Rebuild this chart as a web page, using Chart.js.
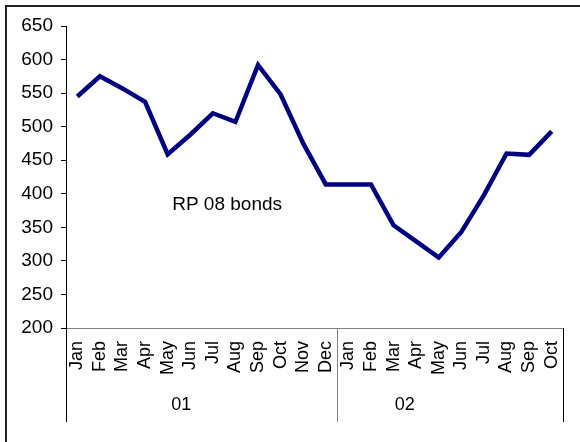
<!DOCTYPE html>
<html>
<head>
<meta charset="utf-8">
<script src="https://cdn.jsdelivr.net/npm/chart.js@4.4.1/dist/chart.umd.min.js"></script>
<style>
  html, body { margin: 0; padding: 0; background: #ffffff; }
  #wrap { width: 580px; height: 442px; position: relative; }
</style>
</head>
<body>
<div id="wrap"><canvas id="c"></canvas></div>
<script>
// Monthly categories, grouped by year
const months = ['Jan','Feb','Mar','Apr','May','Jun','Jul','Aug','Sep','Oct','Nov','Dec',
                'Jan','Feb','Mar','Apr','May','Jun','Jul','Aug','Sep','Oct'];
const years = ['01', '02'];
const monthsPerYear = [12, 10];

// RP 08 bonds series
const rp08 = [545, 575, 557, 537, 459, 488, 520, 507, 592, 548, 475, 414,
              414, 414, 353, 329, 305, 343, 398, 460, 458, 493];

// Value axis
const yMin = 200;
const yMax = 650;
const yStep = 50;

const seriesLabel = 'RP 08 bonds';
const FONT = '"Liberation Sans", Arial, Helvetica, sans-serif';

// Outer frame, year group separators/labels and the in-plot series caption
const decorations = {
  id: 'decorations',
  afterDraw(chart, args, opts) {
    const ctx = chart.ctx;
    const area = chart.chartArea;
    const x = chart.scales.x;
    const y = chart.scales.y;
    const half = (x.getPixelForValue(1) - x.getPixelForValue(0)) / 2;

    ctx.save();
    // frame
    ctx.strokeStyle = '#222';
    ctx.lineWidth = 2;
    ctx.strokeRect(6, 6, 700, 700);

    // year separators
    let start = 0;
    const bottom = area.bottom + opts.groupDepth;
    const edges = [];
    monthsPerYear.forEach(n => { edges.push(start); start += n; });
    edges.push(start);
    edges.forEach((idx, i) => {
      const px = Math.round(x.getPixelForValue(idx) - half) + 0.5;
      ctx.strokeStyle = (i === 0 || i === edges.length - 1) ? '#000' : '#808080';
      ctx.lineWidth = 1;
      ctx.beginPath();
      ctx.moveTo(px, area.bottom);
      ctx.lineTo(px, bottom);
      ctx.stroke();
    });

    // year labels
    ctx.fillStyle = '#000';
    ctx.font = '18px ' + FONT;
    ctx.textAlign = 'center';
    ctx.textBaseline = 'middle';
    years.forEach((yr, i) => {
      ctx.fillText(yr, x.getPixelForValue(opts.yearLabelAt[i]), area.bottom + opts.yearLabelOffset);
    });

    // series caption
    ctx.font = '19px ' + FONT;
    ctx.textAlign = 'left';
    ctx.fillText(seriesLabel, x.getPixelForValue(opts.captionAt[0]), y.getPixelForValue(opts.captionAt[1]));
    ctx.restore();
  }
};

new Chart(document.getElementById('c'), {
  type: 'line',
  data: {
    labels: months,
    datasets: [{
      label: seriesLabel,
      data: rp08,
      borderColor: '#000080',
      borderWidth: 4.5,
      borderJoinStyle: 'miter',
      borderCapStyle: 'butt',
      pointRadius: 0,
      pointHoverRadius: 0,
      tension: 0,
      fill: false
    }]
  },
  options: {
    responsive: true,
    maintainAspectRatio: false,
    animation: false,
    events: [],
    layout: { padding: { top: 26, right: 17, bottom: 0, left: 0 } },
    plugins: {
      legend: { display: false },
      tooltip: { enabled: false },
      title: { display: false },
      decorations: {
        groupDepth: 94,
        yearLabelAt: [4.6, 14.5],
        yearLabelOffset: 77,
        captionAt: [4.2, 384]
      }
    },
    scales: {
      x: {
        type: 'category',
        offset: true,
        grid: { display: false, drawOnChartArea: false, drawTicks: false },
        border: { display: true, color: '#808080', width: 1 },
        ticks: {
          autoSkip: false,
          minRotation: 90,
          maxRotation: 90,
          padding: 13,
          color: '#000',
          font: { family: FONT, size: 18 }
        },
        afterFit(scale) {
          scale.height = 114;
          scale.paddingLeft = 0;
          scale.paddingRight = 0;
        }
      },
      y: {
        min: yMin,
        max: yMax,
        grid: { display: true, drawOnChartArea: false, drawTicks: true, tickLength: 5, color: '#000' },
        border: { display: true, color: '#000', width: 1 },
        ticks: {
          stepSize: yStep,
          padding: 8,
          color: '#000',
          font: { family: FONT, size: 19 }
        },
        afterFit(scale) { scale.width = 66; }
      }
    }
  },
  plugins: [decorations]
});
</script>
</body>
</html>
